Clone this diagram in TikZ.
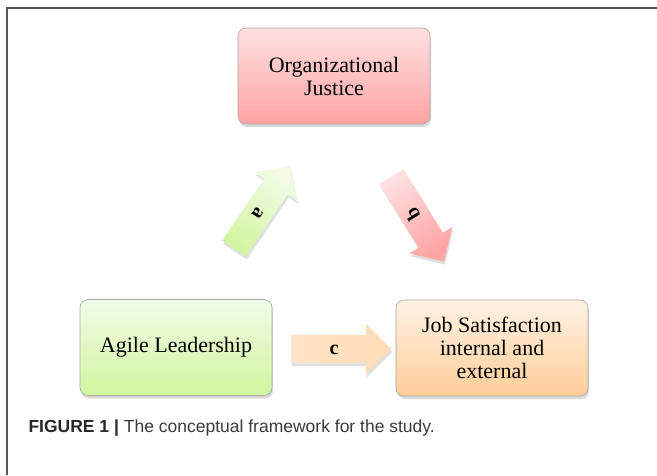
\documentclass[tikz,border=0pt]{standalone}
\usepackage{fontspec}
\setmainfont{Liberation Serif}
\newfontfamily\capfont{Liberation Sans}
\usetikzlibrary{shapes.arrows,shadows}
\definecolor{framegray}{HTML}{555555}
\definecolor{capgray}{HTML}{3A3A3A}
\definecolor{jtop}{HTML}{FFE0E0}
\definecolor{jbot}{HTML}{FFA3A3}
\definecolor{ltop}{HTML}{F2FBE6}
\definecolor{lbot}{HTML}{D2F5A0}
\definecolor{stop}{HTML}{FFF2E4}
\definecolor{sbot}{HTML}{FFCE98}
\begin{document}
\begin{tikzpicture}[x=1pt,y=1pt,
	box/.style={rounded corners=8pt,draw=gray!70,line width=0.6pt,minimum width=192pt,minimum height=96pt,align=center,
		font=\fontsize{22}{23}\selectfont,drop shadow={opacity=0.3,shadow xshift=1pt,shadow yshift=-3pt}},
	blk/.style={single arrow,single arrow head extend=11pt,minimum width=50pt,minimum height=100pt,inner xsep=0pt,inner ysep=9pt,
		text height=10pt,text depth=0pt,font=\fontsize{20}{20}\selectfont\bfseries,
		drop shadow={opacity=0.25,shadow xshift=1pt,shadow yshift=-3pt}}]
	\useasboundingbox (0,0) rectangle (657,475);
	\draw[line width=1.2pt,framegray] (7,0) -- (7,467) -- (657,467);
	\node (j) at (334,399) [box,top color=jtop,bottom color=jbot] {Organizational\\Justice};
	\node (l) at (176,127.5) [box,top color=ltop,bottom color=lbot] {Agile Leadership};
	\node (s) at (492,127) [box,top color=stop,bottom color=sbot] {Job Satisfaction\\internal and\\external};
	\node (a) at (258,262) [blk,rotate=235.9,shape border rotate=180,top color=ltop,bottom color=lbot,shading angle=-34] {a};
	\node (b) at (414,262) [blk,rotate=121.7,shape border rotate=180,top color=jtop,bottom color=jbot,shading angle=32] {b};
	\node (c) at (334,126) [blk,left color=stop!60!sbot,right color=stop!40!sbot] {c};
	\node (cap) at (25,47) [anchor=west,font=\capfont\fontsize{17.5}{20}\selectfont,text=capgray]
		{\textbf{\color{black!85}FIGURE 1 |} The conceptual framework for the study.};
\end{tikzpicture}
\end{document}
